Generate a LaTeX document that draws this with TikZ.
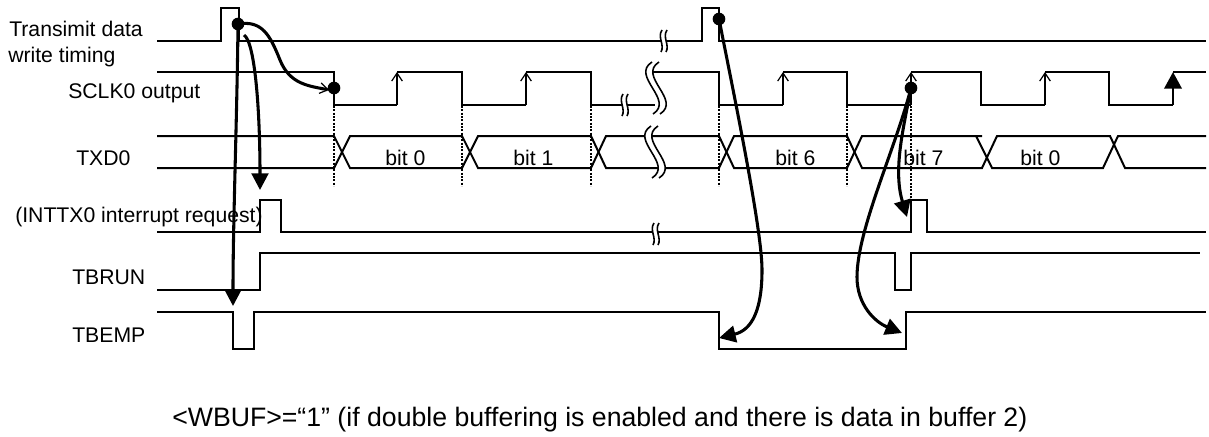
\documentclass[tikz,border=0pt]{standalone}
\usepackage{fontspec}
\setmainfont{Liberation Sans}
\usetikzlibrary{arrows.meta}
\tikzset{x=0.75pt,y=-0.75pt,
 sig/.style={draw=black,line width=1.5pt,line join=miter},
 dots/.style={draw=black,line width=1.9pt,dash pattern=on 1.4pt off 1.1pt},
 flow/.style={draw=black,line width=2.3pt},
 head/.style={-{Triangle[length=12.5pt,width=12.5pt]}},
 open/.style={-{Straight Barb[length=6pt,width=8pt,line width=.9pt]}},
 dotn/.style={circle,fill=black,inner sep=0,minimum size=9.5pt},
 lab/.style={font=\fontsize{15.9pt}{18pt}\selectfont,inner sep=0,anchor=base west},
 caplab/.style={font=\fontsize{20pt}{24pt}\selectfont,inner sep=0,anchor=base west},
 brk/.style={draw=black,line width=1.2pt}}
\newcommand{\smallbrk}[2]{\path[fill=white] (#1+1,#2-11) .. controls (#1-4,#2-4) and (#1+4,#2+4) .. (#1,#2+11) -- (#1+5,#2+11) .. controls (#1+9,#2+4) and (#1+1,#2-4) .. (#1+6,#2-11) -- cycle;
\draw[brk] (#1+1,#2-11) .. controls (#1-4,#2-4) and (#1+4,#2+4) .. (#1,#2+11);
\draw[brk] (#1+6,#2-11) .. controls (#1+1,#2-4) and (#1+9,#2+4) .. (#1+5,#2+11);}
\newcommand{\bigbrk}[2]{\path[fill=white] (#1,#2-26) .. controls (#1-22,#2-12) and (#1+23,#2+12) .. (#1+1,#2+26) -- (#1+8,#2+26) .. controls (#1+30,#2+12) and (#1-15,#2-12) .. (#1+7,#2-26) -- cycle;
\draw[brk] (#1,#2-26) .. controls (#1-22,#2-12) and (#1+23,#2+12) .. (#1+1,#2+26);
\draw[brk] (#1+7,#2-26) .. controls (#1-15,#2-12) and (#1+30,#2+12) .. (#1+8,#2+26);}
\begin{document}
\begin{tikzpicture}
\useasboundingbox (0,0) rectangle (1209,436);
% dotted guides
\foreach \n/\x in {a/334,b/462,c/591,d/719,e/847}{
 \coordinate (g\n1) at (\x,96); \coordinate (g\n2) at (\x,186);
 \draw[dots] (g\n1) -- (g\n2);}
\coordinate (gf1) at (911,96); \coordinate (gf2) at (911,198);
\draw[dots] (gf1) -- (gf2);
% write timing
\draw[sig] (157,41) -- (221,41) -- (221,8) -- (239,8) -- (239,41) -- (702,41) -- (702,8) -- (719,8) -- (719,41) -- (1206,41);
% SCLK
\draw[sig] (157,72) -- (334,72) -- (334,105) -- (397,105);
\draw[sig] (397,72) -- (462,72) -- (462,105) -- (526,105);
\draw[sig] (526,72) -- (591,72) -- (591,105) -- (655,105);
\draw[sig] (650,72) -- (719,72) -- (719,105) -- (783,105);
\draw[sig] (783,72) -- (847,72) -- (847,105) -- (911,105);
\draw[sig] (911,72) -- (981,72) -- (981,105) -- (1045,105);
\draw[sig] (1045,72) -- (1109,72) -- (1109,105) -- (1173,105);
\draw[sig] (1173,72) -- (1206,72);
\foreach \n/\x in {a/397,b/526,c/783,d/1045,e/911}{
 \coordinate (r\n1) at (\x,105); \coordinate (r\n2) at (\x,72);
 \draw[draw=black,line width=2pt,open] (r\n1) -- (r\n2);}
\coordinate (rf1) at (1173,105); \coordinate (rf2) at (1173,72);
\draw[draw=black,line width=2pt,-{Triangle[length=12.5pt,width=13pt]}] (rf1) -- (rf2);
% TXD
\draw[sig] (157,136) -- (334,136) -- (350,168) -- (462,168) -- (478,136) -- (591,136) -- (606,168) -- (719,168) -- (734,136) -- (847,136) -- (862,168) -- (982,168) -- (997,136) -- (1110,136) -- (1125,168) -- (1206,168);
\draw[sig] (157,168) -- (334,168) -- (350,136) -- (462,136) -- (478,168) -- (591,168) -- (606,136) -- (719,136) -- (734,168) -- (847,168) -- (862,136) -- (982,136);
\draw[sig] (976,136) -- (992,168) -- (1103,168) -- (1118,136) -- (1206,136);
% INTTX
\draw[sig] (157,232) -- (260,232) -- (260,200) -- (281,200) -- (281,232) -- (911,232) -- (911,200) -- (927,200) -- (927,232) -- (1206,232);
% TBRUN
\draw[sig] (157,290) -- (260,290) -- (260,253) -- (895,253) -- (895,290) -- (911,290) -- (911,253) -- (1200,253);
% TBEMP
\draw[sig] (157,312) -- (233,312) -- (233,349) -- (254,349) -- (254,312) -- (719,312) -- (719,349) -- (906,349) -- (906,312) -- (1206,312);
% breaks
\smallbrk{661}{41}
\smallbrk{622}{105}
\smallbrk{653}{234}
\bigbrk{652}{88}
\bigbrk{651}{152}
% labels
\node[lab] (l1) at (9,36) {Transimit data};
\node[lab] (l2) at (8,62) {write timing};
\node[lab] (l3) at (68,98) {SCLK0 output};
\node[lab] (l4) at (76,165) {TXD0};
\node[lab] (l5) at (15,222) {(INTTX0 interrupt request)};
\node[lab] (l6) at (72,284) {TBRUN};
\node[lab] (l7) at (72,342) {TBEMP};
\node[lab] (b0) at (385,165) {bit 0};
\node[lab] (b1) at (513,165) {bit 1};
\node[lab] (b6) at (775,165) {bit 6};
\node[lab] (b7) at (903,165) {bit 7};
\node[lab] (b8) at (1020,165) {bit 0};
\node[caplab] (cap) at (172,426) {<WBUF>=“1” (if double buffering is enabled and there is data in buffer 2)};
% flow arrows
\node[dotn] (d1) at (238,24) {};
\node[dotn] (d2) at (334,88) {};
\node[dotn] (d3) at (719,19) {};
\node[dotn] (d4) at (911,88) {};
\coordinate (s2) at (244,35);
\coordinate (t1) at (233,306);
\coordinate (t2) at (260,190);
\coordinate (t3) at (329,90);
\coordinate (t4) at (719,338);
\coordinate (t5) at (902,333);
\coordinate (t6) at (907,217);
\draw[flow,head] (d1.center) .. controls (237,120) and (233,220) .. (t1);
\draw[flow,head] (s2) .. controls (255,42) and (260,110) .. (t2);
\draw[flow,open] (d1.center) .. controls (262,20) and (270,35) .. (280,60) .. controls (290,85) and (310,86) .. (t3);
\draw[flow,head] (d3.center) .. controls (735,100) and (762,230) .. (762,270) .. controls (762,310) and (752,330) .. (t4);
\draw[flow,head] (d4.center) .. controls (895,150) and (857,230) .. (857,277) .. controls (857,305) and (875,322) .. (t5);
\draw[flow,head] (d4.center) .. controls (903,130) and (893,170) .. (t6);
\end{tikzpicture}
\end{document}
